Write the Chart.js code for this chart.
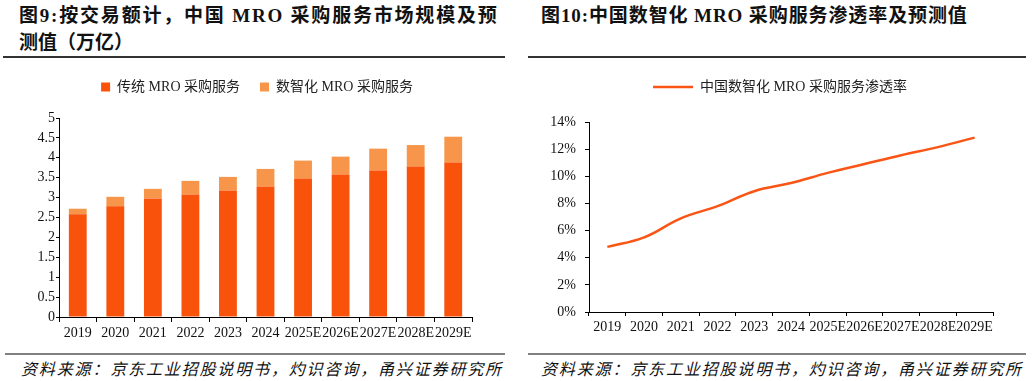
<!DOCTYPE html>
<html lang="zh">
<head>
<meta charset="UTF-8">
<title>MRO 采购服务</title>
<script src="https://cdn.jsdelivr.net/npm/chart.js"></script>
<style>
  body { margin: 0; background: #fff; width: 1032px; height: 381px; position: relative; overflow: hidden;
         font-family: "Liberation Serif", "Noto Sans CJK SC", serif; }
  .title { position: absolute; font-weight: bold; font-size: 19px; line-height: 27px; color: #111; white-space: nowrap; }
  .rule-top { position: absolute; top: 56px; height: 2px; background: #333; }
  .rule-bot { position: absolute; top: 353px; height: 2px; background: #808080; }
  .source { position: absolute; top: 356px; font-size: 16px; font-style: italic; letter-spacing: 1.85px; color: #111; white-space: nowrap; }
  .box { position: absolute; top: 60px; }
</style>
</head>
<body>

<div class="title" style="left:19px; top:2px;"><span style="letter-spacing:1.8px;">图9:按交易额计，中国 MRO 采购服务市场规模及预</span><br>测值（万亿）</div>
<div class="title" style="left:541px; top:2px; letter-spacing:0.9px;">图10:中国数智化 MRO 采购服务渗透率及预测值</div>
<div class="rule-top" style="left:3px; width:502px;"></div>
<div class="rule-top" style="left:528px; width:498px;"></div>

<div class="box" style="left:0px;"><canvas id="scaleChart" width="510" height="290"></canvas></div>
<div class="box" style="left:525px;"><canvas id="rateChart" width="505" height="290"></canvas></div>

<div class="rule-bot" style="left:5px; width:500px;"></div>
<div class="rule-bot" style="left:528px; width:498px;"></div>
<div class="source" style="left:21px;">资料来源：京东工业招股说明书，灼识咨询，甬兴证券研究所</div>
<div class="source" style="left:541px;">资料来源：京东工业招股说明书，灼识咨询，甬兴证券研究所</div>

<script>
    // years shared by both charts
    const years = ['2019', '2020', '2021', '2022', '2023', '2024', '2025E', '2026E', '2027E', '2028E', '2029E'];

    // market size, trillion yuan
    const traditionalMro = [2.58, 2.78, 2.98, 3.08, 3.18, 3.28, 3.48, 3.58, 3.68, 3.78, 3.88];
    const digitalMro = [0.14, 0.24, 0.24, 0.34, 0.34, 0.44, 0.45, 0.45, 0.55, 0.54, 0.65];

    // penetration rate of digital MRO, %
    const penetrationRate = [4.8, 5.5, 6.9, 7.8, 8.9, 9.5, 10.25, 10.9, 11.55, 12.15, 12.85];

    const tickFont = { family: "'Liberation Serif', 'Noto Sans CJK SC'", size: 14 };
    const legendFont = { family: "'Liberation Serif', 'Noto Sans CJK SC'", size: 14 };

    // fixed legend height (so the plot area lands right) and a sideways nudge
    function legendBox(h, dx) {
        return {
            id: 'legendBox',
            beforeInit(chart) {
                const origFit = chart.legend.fit;
                chart.legend.fit = function () {
                    origFit.bind(chart.legend)();
                    this.height = h;
                };
            },
            afterLayout(chart) {
                chart.legend.left += dx;
                chart.legend.right += dx;
            }
        };
    }

    const axisLine = { display: true, color: '#000', width: 1 };

    new Chart(document.getElementById('scaleChart'), {
        type: 'bar',
        data: {
            labels: years,
            datasets: [{
                label: '传统 MRO 采购服务',
                data: traditionalMro,
                backgroundColor: '#F9520B',
                barPercentage: 0.5,
                categoryPercentage: 0.95
            }, {
                label: '数智化 MRO 采购服务',
                data: digitalMro,
                backgroundColor: '#F7964A',
                barPercentage: 0.5,
                categoryPercentage: 0.95
            }]
        },
        options: {
            responsive: false,
            animation: false,
            layout: { padding: { top: 0, right: 38, bottom: 0, left: 0 } },
            plugins: {
                legend: {
                    position: 'top',
                    labels: { boxWidth: 9, boxHeight: 9, padding: 20, color: '#222', font: legendFont }
                },
                tooltip: { enabled: false }
            },
            scales: {
                x: {
                    stacked: true,
                    border: axisLine,
                    grid: { drawOnChartArea: false, drawTicks: true, tickLength: 5, color: '#000', offset: true },
                    ticks: { color: '#111', font: tickFont, maxRotation: 0, autoSkip: false, padding: 3 },
                    afterFit: s => { s.height = 33; }
                },
                y: {
                    stacked: true,
                    min: 0,
                    max: 5,
                    border: axisLine,
                    grid: { drawOnChartArea: false, drawTicks: true, tickLength: 3, color: '#000' },
                    ticks: { stepSize: 0.5, color: '#111', font: tickFont, padding: 1,
                             callback: v => String(+v.toFixed(1)) },
                    afterFit: s => { s.width = 59; }
                }
            }
        },
        plugins: [legendBox(58, 21)]
    });

    new Chart(document.getElementById('rateChart'), {
        type: 'line',
        data: {
            labels: years,
            datasets: [{
                label: '中国数智化 MRO 采购服务渗透率',
                data: penetrationRate,
                borderColor: '#FA5514',
                backgroundColor: '#FA5514',
                borderWidth: 2.5,
                pointRadius: 0,
                tension: 0.4
            }]
        },
        options: {
            responsive: false,
            animation: false,
            layout: { padding: { top: 0, right: 37, bottom: 0, left: 0 } },
            plugins: {
                legend: {
                    position: 'top',
                    labels: { usePointStyle: true, pointStyle: 'line', pointStyleWidth: 40, padding: 20,
                              color: '#222', font: legendFont }
                },
                tooltip: { enabled: false }
            },
            scales: {
                x: {
                    offset: true,
                    border: axisLine,
                    grid: { drawOnChartArea: false, drawTicks: true, tickLength: 4, color: '#000', offset: true },
                    ticks: { color: '#111', font: tickFont, maxRotation: 0, autoSkip: false, padding: 3 },
                    afterFit: s => { s.height = 38; }
                },
                y: {
                    min: 0,
                    max: 14,
                    border: axisLine,
                    grid: { drawOnChartArea: false, drawTicks: true, tickLength: 4, color: '#000' },
                    ticks: { stepSize: 2, color: '#111', font: tickFont, padding: 9,
                             callback: v => v + '%' },
                    afterFit: s => { s.width = 64; }
                }
            }
        },
        plugins: [legendBox(62, 21)]
    });
</script>
</body>
</html>
